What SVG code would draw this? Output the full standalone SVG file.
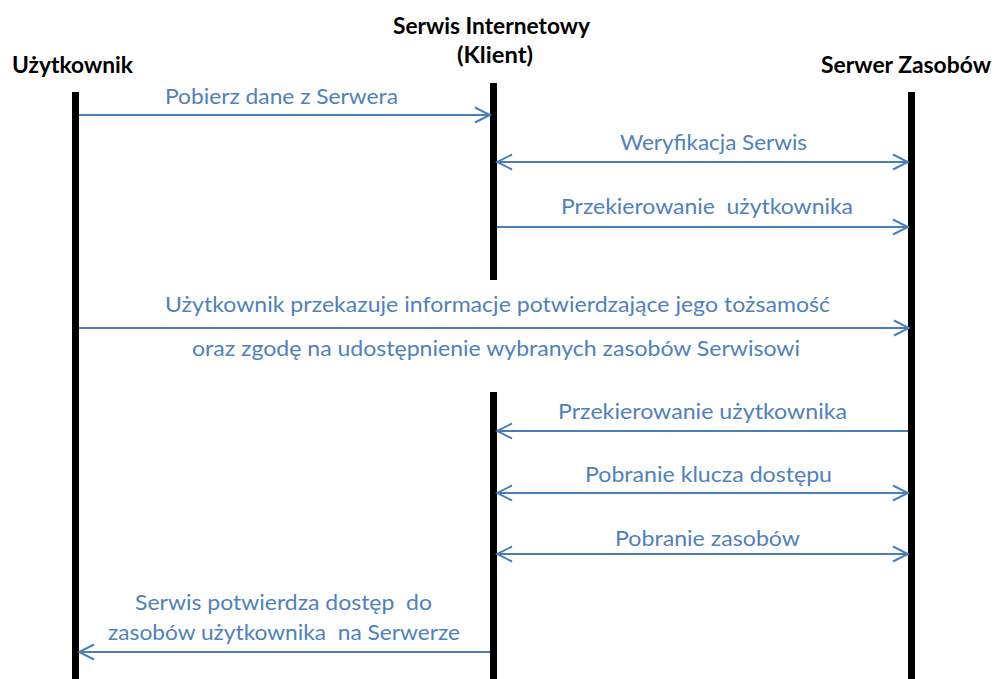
<svg xmlns="http://www.w3.org/2000/svg" width="997" height="679" viewBox="0 0 997 679">
  <style>
    .lifeline { fill: #000000; }
    .head { font-family: Lato, "Liberation Sans", sans-serif; font-weight: bold; font-size: 23px; fill: #000000; }
    .msg { font-family: Lato, "Liberation Sans", sans-serif; font-size: 22px; fill: #4F81BD; }
    .conn { stroke: #4A7EBB; stroke-width: 2; fill: none; }
  </style>
  <defs>
    <marker id="open" viewBox="0 0 18 18" markerUnits="userSpaceOnUse" markerWidth="18" markerHeight="18" refX="16" refY="9" orient="auto-start-reverse">
      <path d="M1,1.5 L16,9 L1,16.5" fill="none" stroke="#4A7EBB" stroke-width="2"/>
    </marker>
  </defs>
  <rect width="997" height="679" fill="#ffffff"/>

  <!-- participant: user -->
  <g id="uzytkownik">
    <text class="head" x="12" y="73" textLength="121" lengthAdjust="spacingAndGlyphs">Użytkownik</text>
    <rect class="lifeline" x="72" y="92" width="7" height="587"/>
  </g>

  <!-- participant: web service (client) -->
  <g id="serwis">
    <text class="head" x="393" y="34" textLength="197" lengthAdjust="spacingAndGlyphs">Serwis Internetowy</text>
    <text class="head" x="457" y="63" textLength="76" lengthAdjust="spacingAndGlyphs">(Klient)</text>
    <rect class="lifeline" x="490" y="83" width="7" height="197"/>
    <rect class="lifeline" x="490" y="392" width="7" height="287"/>
  </g>

  <!-- participant: resource server -->
  <g id="serwer">
    <text class="head" x="821" y="73" textLength="170" lengthAdjust="spacingAndGlyphs">Serwer Zasobów</text>
    <rect class="lifeline" x="908" y="92" width="7" height="587"/>
  </g>

  <!-- messages -->
  <g id="connectors">
    <path class="conn" d="M79,115 H490" marker-end="url(#open)"/>
    <path class="conn" d="M497,162 H908" marker-start="url(#open)" marker-end="url(#open)"/>
    <path class="conn" d="M497,227 H908" marker-end="url(#open)"/>
    <path class="conn" d="M79,328 H909" marker-end="url(#open)"/>
    <path class="conn" d="M908,431 H497" marker-end="url(#open)"/>
    <path class="conn" d="M497,493 H908" marker-start="url(#open)" marker-end="url(#open)"/>
    <path class="conn" d="M497,554 H908" marker-start="url(#open)" marker-end="url(#open)"/>
    <path class="conn" d="M490,652 H79" marker-end="url(#open)"/>
  </g>

  <!-- message labels -->
  <g id="labels">
    <text class="msg" x="165" y="104" textLength="233" lengthAdjust="spacingAndGlyphs">Pobierz dane z Serwera</text>
    <text class="msg" x="620" y="150" textLength="187" lengthAdjust="spacingAndGlyphs">Weryfikacja Serwis</text>
    <text class="msg" xml:space="preserve" x="561" y="214" textLength="292" lengthAdjust="spacingAndGlyphs">Przekierowanie  użytkownika</text>
    <text class="msg" x="165" y="312" textLength="665" lengthAdjust="spacingAndGlyphs">Użytkownik przekazuje informacje potwierdzające jego tożsamość</text>
    <text class="msg" x="192" y="356" textLength="608" lengthAdjust="spacingAndGlyphs">oraz zgodę na udostępnienie wybranych zasobów Serwisowi</text>
    <text class="msg" x="558" y="419" textLength="289" lengthAdjust="spacingAndGlyphs">Przekierowanie użytkownika</text>
    <text class="msg" x="585" y="482" textLength="247" lengthAdjust="spacingAndGlyphs">Pobranie klucza dostępu</text>
    <text class="msg" x="615" y="546" textLength="185" lengthAdjust="spacingAndGlyphs">Pobranie zasobów</text>
    <text class="msg" xml:space="preserve" x="135" y="610" textLength="297" lengthAdjust="spacingAndGlyphs">Serwis potwierdza dostęp  do</text>
    <text class="msg" xml:space="preserve" x="108" y="640" textLength="352" lengthAdjust="spacingAndGlyphs">zasobów użytkownika  na Serwerze</text>
  </g>
</svg>
